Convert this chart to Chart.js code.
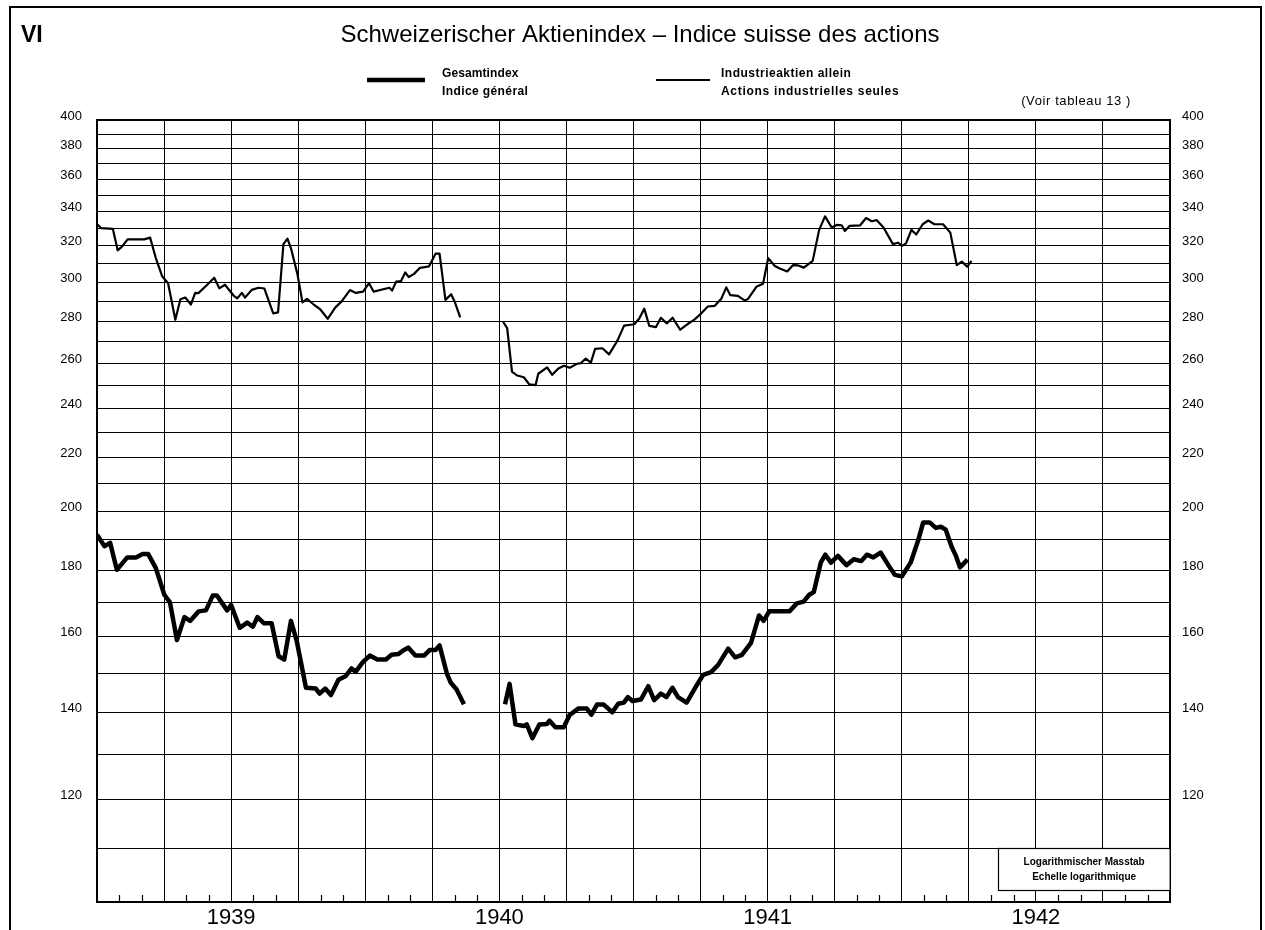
<!DOCTYPE html>
<html>
<head>
<meta charset="utf-8">
<script src="https://cdn.jsdelivr.net/npm/chart.js@4.4.1/dist/chart.umd.min.js"></script>
<style>
html,body{margin:0;padding:0;background:#fff;}
canvas{display:block;}
</style>
</head>
<body>
<canvas id="c" width="1265" height="930"></canvas>
<script>
const FONT = "'Liberation Sans', Arial, Helvetica, sans-serif";

// ---- texts ----
const panelLabel = 'VI';
const titleText = 'Schweizerischer Aktienindex – Indice suisse des actions';
const generalName = ['Gesamtindex', 'Indice général'];
const industryName = ['Industrieaktien allein', 'Actions industrielles seules'];
const noteText = '(Voir tableau 13 )';
const scaleNote = ['Logarithmischer Masstab', 'Echelle logarithmique'];

// ---- axes ----
const yearLabels = ['1939', '1940', '1941', '1942'];
const quarterTicks = [1939,1939.25,1939.5,1939.75,1940,1940.25,1940.5,1940.75,1941,1941.25,1941.5,1941.75,1942,1942.25,1942.5,1942.75,1943];
const yGridValues = [100,110,120,130,140,150,160,170,180,190,200,210,220,230,240,250,260,270,280,290,300,310,320,330,340,350,360,370,380,390,400];
const yLabelValues = [120,140,160,180,200,220,240,260,280,300,320,340,360,380,400];

// ---- Gesamtindex (thick line); null marks the closure gap ----
const generalDates = [
 1939.000,1939.028,1939.049,1939.074,1939.113,1939.145,1939.170,1939.191,1939.219,1939.251,
 1939.272,1939.298,1939.326,1939.347,1939.379,1939.406,1939.432,1939.447,1939.485,1939.500,
 1939.532,1939.560,1939.581,1939.598,1939.623,1939.651,1939.677,1939.698,1939.723,1939.745,
 1939.779,1939.815,1939.830,1939.851,1939.872,1939.900,1939.926,1939.949,1939.964,1939.991,
 1940.017,1940.045,1940.077,1940.098,1940.123,1940.140,1940.160,1940.187,1940.219,1940.240,
 1940.262,1940.277,1940.304,1940.319,1940.340,1940.368,
 1940.450,
 1940.521,1940.538,1940.560,1940.591,1940.602,1940.623,1940.649,1940.677,1940.687,1940.709,
 1940.740,1940.762,1940.794,1940.826,1940.843,1940.864,1940.889,1940.921,1940.943,1940.964,
 1940.979,1940.996,1941.028,1941.055,1941.077,1941.102,1941.123,1941.145,1941.166,1941.198,
 1941.230,1941.260,1941.289,1941.315,1941.353,1941.379,1941.404,1941.438,1941.468,1941.485,
 1941.506,1941.549,1941.581,1941.609,1941.634,1941.655,1941.672,1941.698,1941.715,1941.736,
 1941.762,1941.794,1941.821,1941.849,1941.870,1941.894,1941.921,1941.953,1941.974,1942.000,
 1942.033,1942.061,1942.080,1942.104,1942.127,1942.146,1942.164,1942.187,1942.202,1942.217,
 1942.245
];
const generalValues = [
 191.8,187.9,189.0,180.2,184.2,184.2,185.3,185.3,180.8,172.4,
 170.1,159.1,165.7,164.6,167.4,167.7,172.2,172.2,167.7,169.3,
 162.6,164.1,162.9,165.7,163.9,163.9,154.6,153.7,164.6,158.7,
 146.2,146.0,144.7,146.0,144.3,148.3,149.2,151.3,150.4,153.0,
 154.8,153.7,153.7,155.0,155.2,156.1,157.0,154.8,154.8,156.3,
 156.3,157.6,150.0,147.5,145.8,142.0,
 null,
 142.0,147.2,137.0,136.6,137.0,133.7,137.0,137.1,137.9,136.3,
 136.3,139.3,140.9,140.9,139.4,141.9,141.9,140.0,142.1,142.4,
 143.8,142.8,143.2,146.6,143.0,144.7,143.8,146.2,143.8,142.4,
 146.2,149.6,150.3,152.2,156.7,154.3,155.0,158.3,166.2,164.6,
 167.4,167.4,167.4,169.8,170.3,172.4,173.2,182.5,185.1,182.5,
 184.7,181.7,183.6,183.0,185.1,184.2,185.8,181.3,178.6,178.1,
 182.5,189.8,196.0,196.0,194.1,194.5,193.5,187.5,184.7,181.0,
 183.5
];

// ---- Industrieaktien allein (thin line) ----
const industryDates = [
 1939.000,1939.016,1939.059,1939.077,1939.094,1939.114,1939.176,1939.198,1939.219,1939.243,
 1939.265,1939.292,1939.311,1939.329,1939.350,1939.366,1939.378,1939.409,1939.437,1939.456,
 1939.477,1939.510,1939.523,1939.540,1939.552,1939.577,1939.602,1939.624,1939.657,1939.675,
 1939.695,1939.710,1939.724,1939.747,1939.766,1939.783,1939.808,1939.832,1939.860,1939.888,
 1939.912,1939.943,1939.965,1939.992,1940.014,1940.031,1940.090,1940.100,1940.115,1940.133,
 1940.149,1940.162,1940.182,1940.204,1940.238,1940.262,1940.277,1940.299,1940.320,1940.333,
 1940.354,
 1940.450,
 1940.514,1940.529,1940.547,1940.566,1940.591,1940.612,1940.635,1940.645,1940.678,1940.697,
 1940.720,1940.741,1940.762,1940.791,1940.803,1940.822,1940.841,1940.857,1940.884,1940.909,
 1940.940,1940.965,1941.003,1941.021,1941.040,1941.059,1941.084,1941.102,1941.124,1941.146,
 1941.174,1941.202,1941.227,1941.252,1941.277,1941.302,1941.327,1941.346,1941.361,1941.389,
 1941.414,1941.427,1941.458,1941.483,1941.502,1941.527,1941.545,1941.573,1941.595,1941.614,
 1941.635,1941.668,1941.692,1941.714,1941.739,1941.757,1941.776,1941.788,1941.805,1941.845,
 1941.867,1941.888,1941.907,1941.932,1941.967,1941.986,1942.001,1942.016,1942.036,1942.054,
 1942.078,1942.099,1942.122,1942.154,1942.181,1942.205,1942.224,1942.244,1942.260
];
const industryValues = [
 332.7,330.2,329.8,317.5,319.7,323.7,323.7,324.7,313.3,303.2,
 299.5,280.7,291.1,292.0,288.4,294.4,294.3,298.4,302.4,296.8,
 298.7,292.9,291.6,294.4,292.0,296.0,297.1,296.7,283.9,284.4,
 321.0,324.1,318.1,304.5,289.5,291.3,288.4,286.0,281.2,286.8,
 290.0,295.9,294.4,295.1,299.5,295.1,297.1,295.6,300.3,300.6,
 305.3,302.8,304.5,307.8,308.6,315.6,315.6,290.8,293.7,290.0,
 281.9,
 null,
 279.7,276.6,256.1,254.3,253.5,250.3,250.0,255.1,258.0,254.6,
 257.5,258.7,257.8,259.7,259.9,262.0,260.2,266.6,266.9,264.0,
 270.5,277.8,278.5,281.2,286.3,277.7,277.1,281.7,278.9,281.7,
 275.8,278.6,280.8,283.8,287.4,287.7,291.3,297.3,293.2,292.9,
 290.5,291.3,297.6,299.2,313.1,308.8,307.4,305.8,309.3,309.1,
 307.9,311.6,329.2,337.2,330.6,332.1,331.9,328.6,331.5,331.9,
 336.2,334.3,334.9,330.6,321.0,321.8,320.0,321.4,329.2,326.5,
 332.5,334.7,332.5,332.5,327.6,309.3,311.2,308.4,311.6
];

const toPoints = (xs, ys) => xs.map((x, i) => ({x: x, y: ys[i]}));

function spacedText(c, text, x, y, spacing) {
  if ('letterSpacing' in c) {
    c.letterSpacing = spacing + 'px';
    c.fillText(text, x, y);
    c.letterSpacing = '0px';
  } else {
    c.fillText(text, x, y);
  }
}

const decor = {
  id: 'decor',
  beforeDraw(chart) {
    const c = chart.ctx;
    c.save();
    c.fillStyle = '#fff';
    c.fillRect(0, 0, chart.width, chart.height);
    c.restore();
  },
  afterDatasetsDraw(chart) {
    const c = chart.ctx;
    const xs = chart.scales.x;
    const area = chart.chartArea;
    c.save();
    // month ticks at the bottom axis (pointing inwards)
    c.strokeStyle = '#000';
    c.lineWidth = 1.2;
    for (let m = 1; m < 48; m++) {
      if (m % 3 === 0) continue;
      const px = Math.round(xs.getPixelForValue(1939 + m / 12)) + 0.5;
      c.beginPath();
      c.moveTo(px, area.bottom);
      c.lineTo(px, area.bottom - 7);
      c.stroke();
    }
    // scale note box
    const bx = xs.getPixelForValue(1942.36), bw = area.right - bx;
    const by = 848, bh = 42;
    c.fillStyle = '#fff';
    c.fillRect(bx, by, bw, bh);
    c.lineWidth = 1.2;
    c.strokeRect(Math.round(bx) + 0.5, by + 0.5, bw, bh);
    c.fillStyle = '#000';
    c.font = 'bold 10px ' + FONT;
    c.textAlign = 'center';
    c.textBaseline = 'middle';
    c.fillText(scaleNote[0], bx + bw / 2, by + 14);
    c.fillText(scaleNote[1], bx + bw / 2, by + 29);
    c.restore();
  },
  afterDraw(chart) {
    const c = chart.ctx;
    c.save();
    // page frame
    c.strokeStyle = '#000';
    c.lineWidth = 2;
    c.beginPath();
    c.moveTo(10, 935);
    c.lineTo(10, 7);
    c.lineTo(1261, 7);
    c.lineTo(1261, 935);
    c.stroke();
    c.fillStyle = '#000';
    // panel label
    c.font = 'bold 23px ' + FONT;
    c.textAlign = 'left';
    c.textBaseline = 'alphabetic';
    c.fillText(panelLabel, 21, 42);
    // title
    c.font = '24px ' + FONT;
    c.textAlign = 'center';
    c.fillText(titleText, 640, 42);
    // legend
    c.lineCap = 'butt';
    c.lineWidth = 4.5;
    c.beginPath(); c.moveTo(367, 80); c.lineTo(425, 80); c.stroke();
    c.lineWidth = 2.2;
    c.beginPath(); c.moveTo(656, 80); c.lineTo(710, 80); c.stroke();
    c.font = 'bold 12px ' + FONT;
    c.textAlign = 'left';
    spacedText(c, generalName[0], 442, 77, 0.1);
    spacedText(c, generalName[1], 442, 95, 0.4);
    spacedText(c, industryName[0], 721, 77, 0.5);
    spacedText(c, industryName[1], 721, 95, 0.7);
    c.textAlign = 'right';
    c.font = '13px ' + FONT;
    spacedText(c, noteText, 1131, 105, 0.6);
    c.restore();
  }
};

const yAxisCommon = {
  type: 'logarithmic',
  min: 100,
  max: 400,
  afterBuildTicks: s => { s.ticks = yGridValues.map(v => ({value: v})); },
  ticks: {
    autoSkip: false,
    labelOffset: -4,
    color: '#000',
    font: {family: FONT, size: 13},
    callback: v => (yLabelValues.indexOf(v) >= 0 ? String(v) : '')
  },
  border: {display: true, color: '#000', width: 2}
};

new Chart(document.getElementById('c'), {
  type: 'line',
  data: {
    datasets: [
      {
        label: generalName.join(' / '),
        data: toPoints(generalDates, generalValues),
        borderColor: '#000',
        borderWidth: 4.5,
        pointRadius: 0,
        tension: 0,
        spanGaps: false,
        borderJoinStyle: 'round',
        borderCapStyle: 'butt'
      },
      {
        label: industryName.join(' / '),
        data: toPoints(industryDates, industryValues),
        borderColor: '#000',
        borderWidth: 2.2,
        pointRadius: 0,
        tension: 0,
        spanGaps: false,
        borderJoinStyle: 'round',
        borderCapStyle: 'butt'
      }
    ]
  },
  options: {
    responsive: false,
    animation: false,
    devicePixelRatio: 1,
    layout: {padding: {top: 120, bottom: 0, left: 0, right: 0}},
    plugins: {legend: {display: false}, title: {display: false}, tooltip: {enabled: false}},
    scales: {
      x: {
        type: 'linear',
        min: 1939,
        max: 1943,
        afterBuildTicks: s => { s.ticks = quarterTicks.map(v => ({value: v})); },
        afterFit: s => { s.height = 28; },
        ticks: {
          autoSkip: false,
          maxRotation: 0,
          padding: 3,
          color: '#000',
          font: {family: FONT, size: 22},
          callback: v => {
            const f = v - Math.floor(v);
            return Math.abs(f - 0.5) < 1e-6 ? yearLabels[Math.floor(v) - 1939] : '';
          }
        },
        grid: {
          color: '#000',
          drawTicks: false,
          lineWidth: ctx => (ctx.tick && (ctx.tick.value === 1939 || ctx.tick.value === 1943)) ? 2 : 1
        },
        border: {display: true, color: '#000', width: 2}
      },
      y: Object.assign({}, yAxisCommon, {
        position: 'left',
        afterFit: s => { s.width = 97; },
        ticks: Object.assign({}, yAxisCommon.ticks, {padding: 15}),
        grid: {
          color: '#000',
          drawTicks: false,
          lineWidth: ctx => (ctx.tick && ctx.tick.value === 400) ? 2 : 1
        }
      }),
      y2: Object.assign({}, yAxisCommon, {
        position: 'right',
        afterFit: s => { s.width = 95; },
        ticks: Object.assign({}, yAxisCommon.ticks, {padding: 12}),
        grid: {drawOnChartArea: false, drawTicks: false}
      })
    }
  },
  plugins: [decor]
});
</script>
</body>
</html>
